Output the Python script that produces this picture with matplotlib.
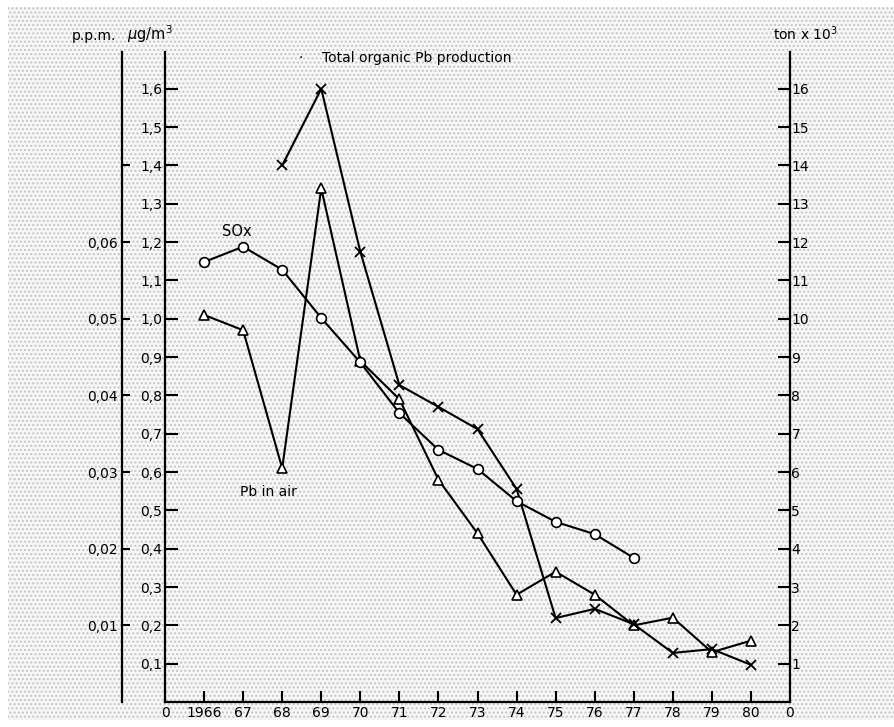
import matplotlib
matplotlib.use('Agg')
import matplotlib.pyplot as plt
from matplotlib.patches import Rectangle

# values
years = [1966, 1967, 1968, 1969, 1970, 1971, 1972, 1973, 1974, 1975, 1976, 1977, 1978, 1979, 1980]

sox_years = years[:12]
sox_ppm = [0.0574, 0.0594, 0.0564, 0.0501, 0.0443, 0.0377, 0.0329, 0.0304, 0.0262, 0.0235, 0.0219, 0.0188]

pb_air_years = years
pb_air_ug = [1.01, 0.97, 0.61, 1.34, 0.89, 0.79, 0.58, 0.44, 0.28, 0.34, 0.28, 0.20, 0.22, 0.13, 0.16]

prod_years = years[2:]
prod_kton = [14.0, 16.0, 11.75, 8.27, 7.70, 7.12, 5.56, 2.19, 2.43, 2.03, 1.28, 1.38, 0.97]

x_ticks = list(range(1965, 1982))
x_labels = ['0', '1966'] + [str(y % 100) for y in range(1967, 1981)] + ['0']
ug_ticks = [i / 10 for i in range(1, 17)]
ppm_ticks = [0.01, 0.02, 0.03, 0.04, 0.05, 0.06, 0.07]
ton_ticks = list(range(1, 17))


def comma(v, nd):
    return f'{v:.{nd}f}'.replace('.', ',')


W, H = 894, 727
fig = plt.figure(figsize=(W / 100, H / 100), dpi=100)
fig.patch.set_facecolor('white')
plt.rcParams['hatch.linewidth'] = 1.0
bg = Rectangle((8 / W, 7 / H), 1, 1 - 14 / H, transform=fig.transFigure,
               facecolor='#f7f7f7', edgecolor='#c4c4c4', hatch='....', lw=0, zorder=-10)
fig.patches.append(bg)

ymax = 1.696
ax = fig.add_axes([165 / W, 1 - 702 / H, (790 - 165) / W, 650 / H])
ax.patch.set_visible(False)
ax.set_xlim(1965, 1981)
ax.set_ylim(0, ymax)
for s in ['top', 'right']:
    ax.spines[s].set_visible(False)
for s in ['left', 'bottom']:
    ax.spines[s].set_linewidth(1.6)

ax.set_xticks(x_ticks)
ax.set_xticklabels(x_labels)
ax.tick_params(axis='x', direction='in', length=8, width=1.5, labelsize=10, pad=3)
xt = ax.xaxis.get_major_ticks()
xt[0].tick1line.set_visible(False)
xt[-1].tick1line.set_visible(False)

ax.set_yticks(ug_ticks)
ax.set_yticklabels([comma(v, 1) for v in ug_ticks])
ax.tick_params(axis='y', direction='in', length=9, width=1.5, labelsize=10, pad=2)

# right axis: production, ton x 10^3
axr = ax.twinx()
axr.set_ylim(0, ymax * 10)
for s in ['top', 'left', 'bottom']:
    axr.spines[s].set_visible(False)
axr.spines['right'].set_linewidth(1.6)
axr.set_yticks(ton_ticks)
axr.tick_params(axis='y', direction='in', length=9, width=1.5, labelsize=10, pad=1)

# outer left axis: p.p.m.
axp = ax.twinx()
axp.set_ylim(0, ymax / 20)
for s in ['top', 'right', 'bottom']:
    axp.spines[s].set_visible(False)
axp.spines['left'].set_visible(True)
axp.spines['left'].set_position(('axes', -43 / 625))
axp.spines['left'].set_linewidth(1.6)
axp.yaxis.set_ticks_position('left')
axp.yaxis.set_label_position('left')
axp.set_yticks(ppm_ticks)
axp.set_yticklabels([comma(v, 2) for v in ppm_ticks[:-1]] + [''])
axp.tick_params(axis='y', direction='in', length=6, width=1.5, labelsize=10, pad=3)

lw = 1.5
ax.plot(pb_air_years, pb_air_ug, color='black', lw=lw, marker='^', ms=7,
        mfc='white', mec='black', mew=1.2, zorder=3)
axp.plot(sox_years, sox_ppm, color='black', lw=lw, marker='o', ms=7,
         mfc='white', mec='black', mew=1.2, zorder=3)
axr.plot(prod_years, prod_kton, color='black', lw=lw, marker='x', ms=7,
         mew=1.3, zorder=3)

fig.text(72 / W, 1 - 36 / H, 'p.p.m.', fontsize=10, va='center', ha='left')
fig.text(127 / W, 1 - 34 / H, r'$\mu$g/m$^3$', fontsize=10.5, va='center', ha='left')
fig.text(773 / W, 1 - 34 / H, r'ton x 10$^3$', fontsize=10, va='center', ha='left')
fig.text(301 / W, 1 - 58 / H, '·', fontsize=10, va='center', ha='center')
fig.text(322 / W, 1 - 58 / H, 'Total organic Pb production', fontsize=10, va='center', ha='left')
fig.text(222 / W, 1 - 232 / H, 'SOx', fontsize=10.5, va='center', ha='left')
fig.text(240 / W, 1 - 492 / H, 'Pb in air', fontsize=10, va='center', ha='left')

fig.savefig('out.png', dpi=100)
